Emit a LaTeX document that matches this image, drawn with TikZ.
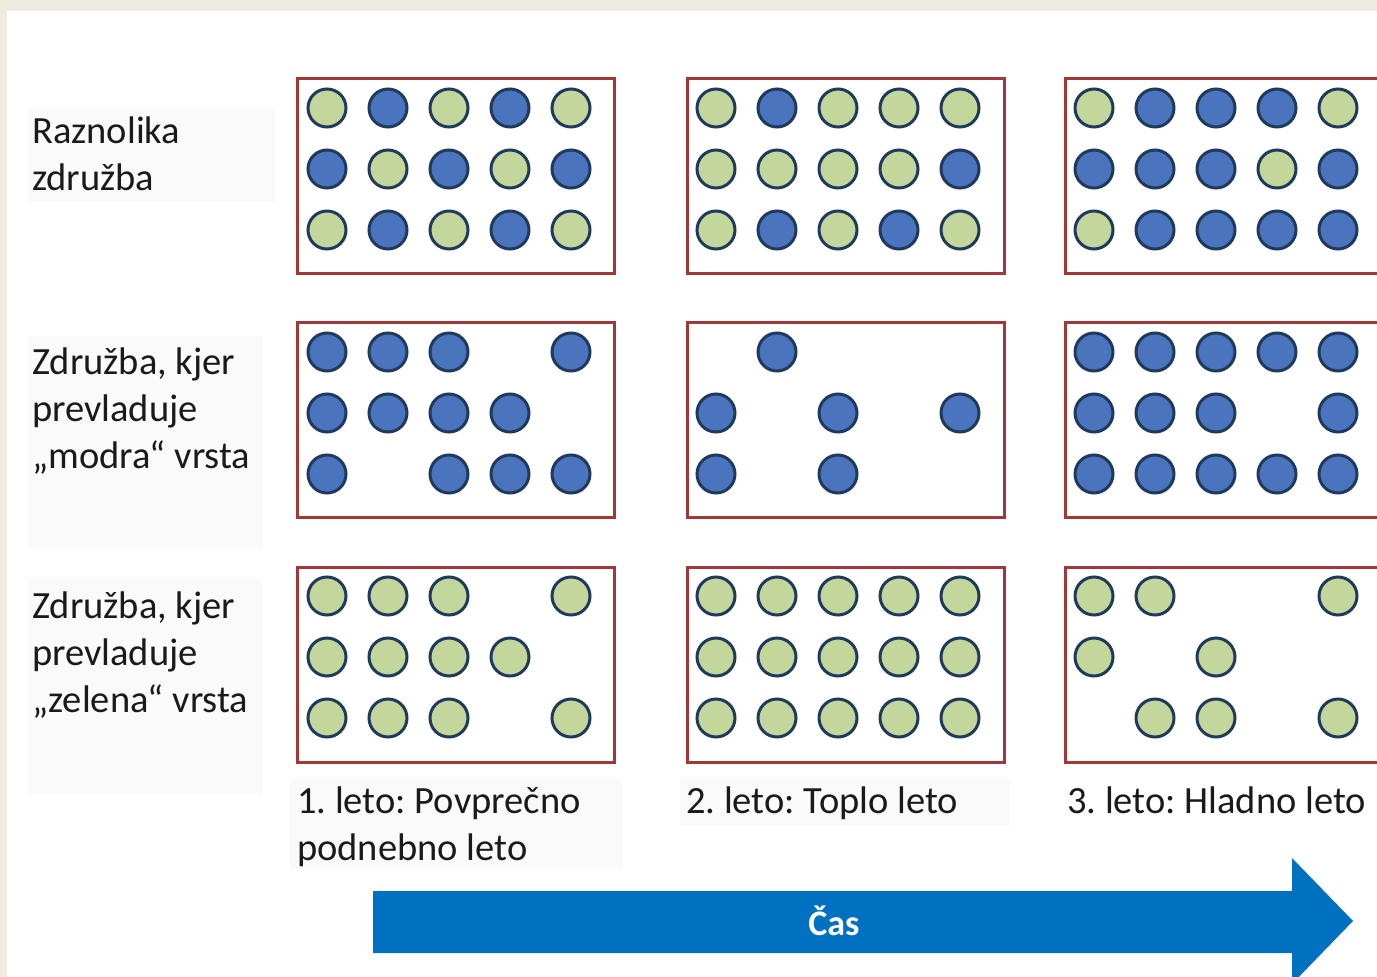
\documentclass[tikz,border=0pt]{standalone}
\usepackage{fontspec}
\setmainfont{Carlito}
\frenchspacing
\definecolor{pagebg}{HTML}{EEECE1}
\definecolor{boxred}{HTML}{A0383A}
\definecolor{dotgreen}{HTML}{C3D69B}
\definecolor{dotblue}{HTML}{4A74BE}
\definecolor{dotedge}{HTML}{203A5C}
\definecolor{arrowblue}{HTML}{0070C0}
\definecolor{txt}{HTML}{1A1A1A}
\tikzset{
  frame/.style={draw=boxred, line width=3pt, minimum width=317pt, minimum height=195pt,
                anchor=north west, inner sep=0pt},
  gdot/.style={fill=dotgreen, draw=dotedge, line width=3pt},
  bdot/.style={fill=dotblue, draw=dotedge, line width=3pt},
  lbl/.style={anchor=base west, inner sep=0pt, font=\fontsize{38.5}{47}\selectfont,
              align=left, text=txt},
  panel/.style={fill=black!2, draw=none}
}
% 3x5 grid of circles: #1,#2 = centre of the top-left circle, #3 = 15 entries (g, b or o)
\newcommand\dotbox[3]{%
  \foreach \kind [count=\i from 0] in {#3}{%
    \pgfmathtruncatemacro\cc{mod(\i,5)}%
    \pgfmathtruncatemacro\rr{div(\i,5)}%
    \if\kind g\draw[gdot] ({#1+61*\cc},{#2+61*\rr}) circle[radius=19pt];\fi
    \if\kind b\draw[bdot] ({#1+61*\cc},{#2+61*\rr}) circle[radius=19pt];\fi
  }}
\begin{document}
\begin{tikzpicture}[x=1pt, y=-1pt]
  \useasboundingbox (0,0) rectangle (1377,977);
  \clip (0,0) rectangle (1377,977);
  % page background
  \fill[pagebg] (0,0) rectangle (1377,977);
  \fill[white] (7,11) rectangle (1377,977);

  % faint label panels
  \fill[panel] (28,108) rectangle (275,202);
  \fill[panel] (28,336) rectangle (262,548);
  \fill[panel] (28,578) rectangle (262,795);
  \fill[panel] (290,778) rectangle (622,868);
  \fill[panel] (680,778) rectangle (1010,826);

  % row labels (anchored at the baseline of the last line)
  \node[lbl] (lab1) at (32,190) {Raznolika\\združba};
  \node[lbl] (lab2) at (32,468) {Združba, kjer\\prevladuje\\„modra“ vrsta};
  \node[lbl] (lab3) at (32,712) {Združba, kjer\\prevladuje\\„zelena“ vrsta};

  % frames
  \node[frame] (b11) at (296,77) {};
  \node[frame] (b12) at (686,77) {};
  \node[frame] (b13) at (1064,77) {};
  \node[frame] (b21) at (296,321) {};
  \node[frame] (b22) at (686,321) {};
  \node[frame] (b23) at (1064,321) {};
  \node[frame] (b31) at (296,566) {};
  \node[frame] (b32) at (686,566) {};
  \node[frame] (b33) at (1064,566) {};

  % diverse community
  \dotbox{327}{108}{g,b,g,b,g, b,g,b,g,b, g,b,g,b,g}
  \dotbox{716}{108}{g,b,g,g,g, g,g,g,g,b, g,b,g,b,g}
  \dotbox{1094}{108}{g,b,b,b,g, b,b,b,g,b, g,b,b,b,b}
  % "blue" community
  \dotbox{327}{352}{b,b,b,o,b, b,b,b,b,o, b,o,b,b,b}
  \dotbox{716}{352}{o,b,o,o,o, b,o,b,o,b, b,o,b,o,o}
  \dotbox{1094}{352}{b,b,b,b,b, b,b,b,o,b, b,b,b,b,b}
  % "green" community
  \dotbox{327}{596}{g,g,g,o,g, g,g,g,g,o, g,g,g,o,g}
  \dotbox{716}{596}{g,g,g,g,g, g,g,g,g,g, g,g,g,g,g}
  \dotbox{1094}{596}{g,g,o,o,g, g,o,g,o,o, o,g,g,o,g}

  % year labels
  \node[lbl] (y1) at (297,860) {1. leto: Povprečno\\podnebno leto};
  \node[lbl] (y2) at (686,813) {2. leto: Toplo leto};
  \node[lbl] (y3) at (1067,813) {3. leto: Hladno leto};

  % time arrow
  \fill[arrowblue] (373,891) -- (1292,891) -- (1292,858) -- (1353,921)
                   -- (1292,984) -- (1292,953) -- (373,953) -- cycle;
  \node[font=\fontsize{36}{42}\selectfont\bfseries, text=white, inner sep=0pt] (cas) at (834,921) {Čas};
\end{tikzpicture}
\end{document}
